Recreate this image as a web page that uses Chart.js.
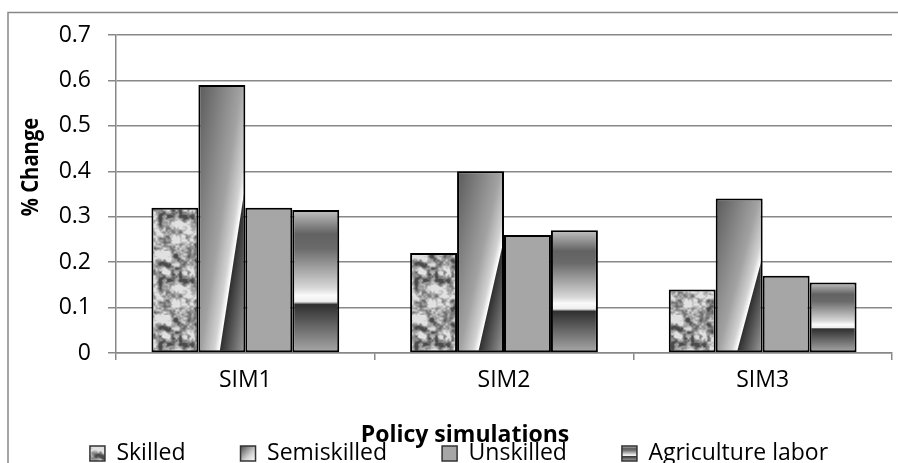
<!DOCTYPE html>
<html>
<head>
<meta charset="utf-8">
<script src="https://cdn.jsdelivr.net/npm/chart.js@4.4.0/dist/chart.umd.min.js"></script>
<style>
  html, body { margin: 0; padding: 0; background: #fff; }
  #wrap { width: 898px; height: 463px; }
</style>
</head>
<body>
<div id="wrap"><canvas id="chart" width="898" height="463"></canvas></div>
<script>
// ----------------------------
// 1. Chart data
// ----------------------------
const categories = ['SIM1', 'SIM2', 'SIM3'];
const seriesNames = ['Skilled', 'Semiskilled', 'Unskilled', 'Agriculture labor'];
const skilled = [0.32, 0.22, 0.14];
const semiskilled = [0.59, 0.40, 0.34];
const unskilled = [0.32, 0.26, 0.17];
const agricultureLabor = [0.315, 0.27, 0.155];
const yTickLabels = ['0', '0.1', '0.2', '0.3', '0.4', '0.5', '0.6', '0.7'];
const yTitle = '% Change';
const xTitle = 'Policy simulations';

const FONT = '"Open Sans", sans-serif';
const FS = 23;
const GRID = '#888888';

// ----------------------------
// 2. Fills (texture + gradients)
// ----------------------------
function makeGranite() {
    const size = 64;
    const c = document.createElement('canvas');
    c.width = c.height = size;
    const g = c.getContext('2d');
    const img = g.createImageData(size, size);
    // deterministic hash for the stone texture
    function hash(x, y, s) {
        let h = (x * 374761393 + y * 668265263 + s * 2147483647) | 0;
        h = Math.imul(h ^ (h >>> 13), 1274126177);
        h = h ^ (h >>> 16);
        return (h >>> 0) / 4294967295;
    }
    function vnoise(x, y, cell) {
        const n = size / cell;
        const gx = x / cell, gy = y / cell;
        const x0 = Math.floor(gx), y0 = Math.floor(gy);
        const fx = gx - x0, fy = gy - y0;
        const sx = fx * fx * (3 - 2 * fx), sy = fy * fy * (3 - 2 * fy);
        const v = (i, j) => hash((x0 + i) % n, (y0 + j) % n, cell);
        const a = v(0, 0) + (v(1, 0) - v(0, 0)) * sx;
        const b = v(0, 1) + (v(1, 1) - v(0, 1)) * sx;
        return a + (b - a) * sy;
    }
    for (let y = 0; y < size; y++) {
        for (let x = 0; x < size; x++) {
            const v = 0.45 * vnoise(x, y, 8) + 0.35 * vnoise(x, y, 4) + 0.2 * vnoise(x, y, 2);
            let gray = 160 + (v - 0.5) * 400;
            gray = Math.max(75, Math.min(225, gray));
            const k = (y * size + x) * 4;
            img.data[k] = img.data[k + 1] = img.data[k + 2] = gray;
            img.data[k + 3] = 255;
        }
    }
    g.putImageData(img, 0, 0);
    return g.createPattern(c, 'repeat');
}
const granite = makeGranite();

function barBox(ctx) {
    const el = ctx.element;
    if (!el || el.x === undefined || el.base === undefined || !el.width) return null;
    const L = el.x - el.width / 2, R = el.x + el.width / 2;
    const T = Math.min(el.y, el.base), B = Math.max(el.y, el.base);
    if (!(R - L > 0 && B - T > 0)) return null;
    return {L, R, T, B};
}

// diagonal sheen: a white streak from (44% w, bottom) to (right, 64% up)
function semiGradient(c2d, L, R, T, B) {
    const w = R - L, h = B - T;
    const a = 0.44, b = 0.64;
    const px = L + a * w, py = B;
    let nx = b * h, ny = (1 - a) * w;
    const len = Math.hypot(nx, ny);
    const k = w * h / len;
    nx /= len; ny /= len;
    const d0 = a * b + (1 - a);   // distance of top-left corner
    const d1 = (1 - a) * b;       // distance of bottom-right corner
    const g = c2d.createLinearGradient(px - d0 * k * nx, py - d0 * k * ny,
                                       px + d1 * k * nx, py + d1 * k * ny);
    const tw = d0 / (d0 + d1);
    g.addColorStop(0, '#5a5a5a');
    g.addColorStop(tw * 0.7, '#a2a2a2');
    g.addColorStop(tw - 0.06, '#d2d2d2');
    g.addColorStop(tw, '#ffffff');
    g.addColorStop(tw + 0.012, '#303030');
    g.addColorStop(tw + (1 - tw) * 0.5, '#656565');
    g.addColorStop(1, '#a0a0a0');
    return g;
}

function agriGradient(c2d, T, B) {
    const g = c2d.createLinearGradient(0, T, 0, B);
    g.addColorStop(0, '#c4c4c4');
    g.addColorStop(0.17, '#626262');
    g.addColorStop(0.27, '#6a6a6a');
    g.addColorStop(0.55, '#d8d8d8');
    g.addColorStop(0.6, '#fafafa');
    g.addColorStop(0.645, '#eeeeee');
    g.addColorStop(0.665, '#303030');
    g.addColorStop(0.8, '#606060');
    g.addColorStop(1, '#a8a8a8');
    return g;
}

function semiFill(ctx) {
    const b = barBox(ctx);
    if (!b) return '#9a9a9a';
    return semiGradient(ctx.chart.ctx, b.L, b.R, b.T, b.B);
}

function agriFill(ctx) {
    const b = barBox(ctx);
    if (!b) return '#8a8a8a';
    return agriGradient(ctx.chart.ctx, b.T, b.B);
}

// ----------------------------
// 3. Plugins: frame, axis titles, legend swatches
// ----------------------------
const framePlugin = {
    id: 'frame',
    afterLayout(chart) {
        // give the category labels room so they are not clipped by the legend box
        const xs = chart.scales.x;
        xs.bottom += 40;
        xs.height += 40;
    },
    beforeDraw(chart) {
        const c = chart.ctx;
        c.save();
        c.fillStyle = '#fff';
        c.fillRect(0, 0, chart.width, chart.height);
        c.strokeStyle = GRID;
        c.lineWidth = 1.5;
        c.beginPath();
        c.moveTo(8, chart.height + 5);
        c.lineTo(8, 12.5);
        c.lineTo(chart.width + 5, 12.5);
        c.stroke();
        c.restore();
    }
};

const titlesPlugin = {
    id: 'titles',
    afterDraw(chart) {
        const c = chart.ctx;
        c.save();
        c.fillStyle = '#000';
        c.font = 'bold ' + FS + 'px ' + FONT;
        c.textAlign = 'center';
        c.textBaseline = 'alphabetic';
        c.fillText(xTitle, 465, 442);
        c.translate(37.5, 167);
        c.rotate(-Math.PI / 2);
        c.scale(0.88, 1);
        c.fillText(yTitle, 0, 0);
        c.restore();
    }
};

const swatchPlugin = {
    id: 'swatches',
    afterDraw(chart) {
        const legend = chart.legend;
        if (!legend || !legend.legendHitBoxes) return;
        const c = chart.ctx;
        const bw = 15, bh = 15;
        legend.legendHitBoxes.forEach((hb, i) => {
            const L = hb.left, T = hb.top + Math.max((FS - bh) / 2, 0);
            const R = L + bw, B = T + bh;
            c.save();
            let fill;
            if (i === 0) fill = granite;
            else if (i === 1) {
                fill = c.createLinearGradient(L, T, R, B);
                fill.addColorStop(0, '#4a4a4a');
                fill.addColorStop(0.6, '#d0d0d0');
                fill.addColorStop(1, '#ffffff');
            } else if (i === 2) fill = '#a6a6a6';
            else fill = agriGradient(c, T, B);
            c.fillStyle = '#fff';
            c.fillRect(L - 1, T - 1, bw + 2, bh + 2);
            c.fillStyle = fill;
            c.fillRect(L, T, bw, bh);
            c.strokeStyle = '#333';
            c.lineWidth = 1.5;
            c.strokeRect(L, T, bw, bh);
            c.restore();
        });
    }
};

// ----------------------------
// 4. Build chart
// ----------------------------
const seriesValues = [skilled, semiskilled, unskilled, agricultureLabor];
const seriesFills = [granite, semiFill, '#a6a6a6', agriFill];

const chart = new Chart(document.getElementById('chart'), {
    type: 'bar',
    data: {
        labels: categories,
        datasets: seriesNames.map((name, i) => ({
            label: name,
            data: seriesValues[i],
            backgroundColor: seriesFills[i],
            borderColor: '#000',
            borderWidth: 2,
            borderSkipped: false,
            categoryPercentage: 0.726,
            barPercentage: 1.0
        }))
    },
    options: {
        responsive: false,
        animation: false,
        devicePixelRatio: 1,
        layout: { padding: { left: 26, right: 6, top: 35, bottom: -12 } },
        plugins: {
            title: { display: false },
            tooltip: { enabled: false },
            legend: {
                position: 'bottom',
                labels: {
                    color: '#000',
                    font: { family: FONT, size: FS },
                    boxWidth: 15,
                    boxHeight: 15,
                    padding: 55,
                    generateLabels: function(ch) {
                        return ch.data.datasets.map((ds, i) => ({
                            text: ds.label,
                            fillStyle: '#a6a6a6',
                            strokeStyle: '#333',
                            lineWidth: 1,
                            datasetIndex: i,
                            hidden: false
                        }));
                    }
                }
            }
        },
        scales: {
            x: {
                afterFit: function(scale) { scale.height = 34; },
                grid: {
                    display: true,
                    drawOnChartArea: false,
                    drawTicks: true,
                    tickLength: 7,
                    offset: true,
                    color: GRID,
                    lineWidth: 1.5
                },
                border: { display: true, color: GRID, width: 1.5 },
                ticks: {
                    color: '#000',
                    font: { family: FONT, size: FS },
                    padding: 7
                }
            },
            y: {
                min: 0,
                max: 0.7,
                afterFit: function(scale) { scale.width = 90; },
                grid: {
                    color: GRID,
                    lineWidth: 1.5,
                    tickLength: 8
                },
                border: { display: true, color: GRID, width: 1.5 },
                ticks: {
                    stepSize: 0.1,
                    color: '#000',
                    font: { family: FONT, size: FS },
                    padding: 17,
                    callback: function(value, index) {
                        return yTickLabels[index];
                    }
                }
            }
        }
    },
    plugins: [framePlugin, titlesPlugin, swatchPlugin]
});

// second pass so the gradients can read each bar's final geometry
chart.update();
</script>
</body>
</html>
